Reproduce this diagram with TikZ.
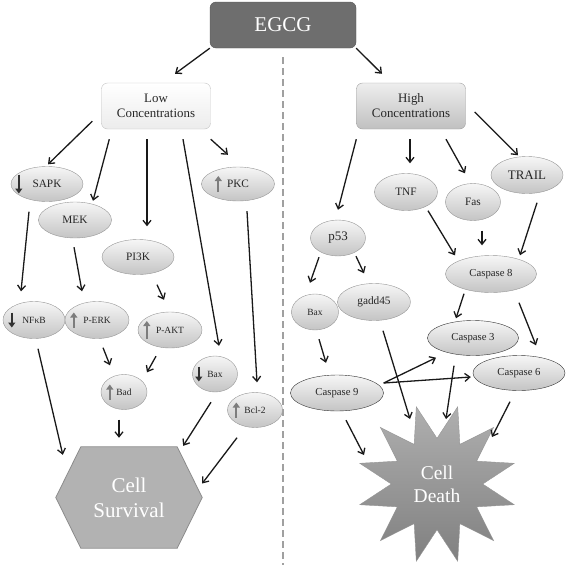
\documentclass[tikz,border=0pt]{standalone}
\usepackage{fontspec}
\setmainfont{Liberation Serif}
\usepackage{tikz}
\usetikzlibrary{arrows.meta,shapes.geometric,backgrounds}

\definecolor{egcggray}{RGB}{110,110,110}
\definecolor{egcgline}{RGB}{85,85,85}
\definecolor{lowline}{RGB}{195,195,195}
\definecolor{lowdark}{RGB}{236,236,236}
\definecolor{highline}{RGB}{160,160,160}
\definecolor{highlight}{RGB}{238,238,238}
\definecolor{highdark}{RGB}{192,192,192}
\definecolor{protline}{RGB}{150,150,150}
\definecolor{protlight}{RGB}{246,246,246}
\definecolor{protdark}{RGB}{196,196,196}
\definecolor{upgray}{RGB}{125,125,125}
\definecolor{dngray}{RGB}{50,50,50}
\definecolor{survfill}{RGB}{178,178,178}
\definecolor{survline}{RGB}{140,140,140}
\definecolor{deathlight}{RGB}{175,175,175}
\definecolor{deathdark}{RGB}{128,128,128}
\definecolor{deathline}{RGB}{150,150,150}
\definecolor{divgray}{RGB}{160,160,160}

\begin{document}
\begin{tikzpicture}[
  x=1pt, y=-1pt,
  >={Straight Barb[length=5pt,width=8pt]},
  conn/.style={->, line width=1.3pt, draw=black!90},
  topbox/.style={rectangle, rounded corners=6pt, draw=egcgline, fill=egcggray, text=white, minimum width=146pt, minimum height=46pt, font=\fontsize{21}{24}\selectfont},
  concbox/.style={rectangle, rounded corners=6pt, minimum width=109pt, minimum height=46pt, align=center, text=black!85, font=\fontsize{12.9}{15}\selectfont},
  prot/.style={ellipse, draw=protline, top color=protlight, bottom color=protdark, inner sep=0pt, text=black!85, font=\fontsize{11.3}{13}\selectfont},
  smallprot/.style={prot, font=\fontsize{9.5}{11}\selectfont},
  bigtext/.style={font=\fontsize{13}{15}\selectfont},
  casptext/.style={font=\fontsize{10.7}{12}\selectfont},
  darkrim/.style={draw=black!80},
  upmark/.style={-{Triangle[length=5pt,width=7pt]}, line width=2.2pt, draw=upgray},
  dnmark/.style={-{Triangle[length=5pt,width=7pt]}, line width=2.2pt, draw=dngray},
  fate/.style={text=white, align=center, font=\fontsize{21}{25}\selectfont},
  divider/.style={draw=divgray, line width=1.6pt, dash pattern=on 7pt off 4pt}
]
  \useasboundingbox (0,0) rectangle (567,565);

  % dividing line between the two regimes
  \draw[divider] (283,57) -- (283,565);

  % top level
  \node[topbox] (egcg) at (283,25) {EGCG};
  \node[concbox, draw=lowline, top color=white, bottom color=lowdark] (low) at (156,106) {Low\\Concentrations};
  \node[concbox, draw=highline, top color=highlight, bottom color=highdark] (high) at (411,106) {High\\Concentrations};

  % low concentrations
  \node[prot, minimum width=72pt, minimum height=35pt] (sapk) at (47,184) {SAPK};
  \node[prot, minimum width=73pt, minimum height=34pt] (pkc) at (238,184) {PKC};
  \node[prot, minimum width=73pt, minimum height=36pt] (mek) at (75,220) {MEK};
  \node[prot, minimum width=72pt, minimum height=35pt] (pi3k) at (138,257) {PI3K};
  \node[smallprot, minimum width=62pt, minimum height=37pt] (nfkb) at (34,320) {NFκB};
  \node[smallprot, minimum width=64pt, minimum height=37pt] (perk) at (97,320) {P-ERK};
  \node[smallprot, minimum width=64pt, minimum height=36pt] (pakt) at (170,330) {P-AKT};
  \node[smallprot, minimum width=45pt, minimum height=36pt] (baxl) at (215,374) {Bax};
  \node[smallprot, minimum width=46pt, minimum height=35pt] (bad) at (124,392) {Bad};
  \node[smallprot, minimum width=55pt, minimum height=35pt] (bcl) at (255,410) {Bcl-2};
  \node[fate, minimum width=146pt, minimum height=101pt] (surv) at (129,497.5) {Cell\\Survival};
  \begin{scope}[on background layer]
    \draw[fill=survfill, draw=survline, line width=0.8pt] (surv.west) -- ([xshift=25pt]surv.north west) -- ([xshift=-25pt]surv.north east) -- (surv.east) -- ([xshift=-25pt]surv.south east) -- ([xshift=25pt]surv.south west) -- cycle;
  \end{scope}

  % high concentrations
  \node[prot, bigtext, minimum width=72pt, minimum height=37pt] (trail) at (527,175) {TRAIL};
  \node[prot, minimum width=63pt, minimum height=37pt] (tnf) at (406,192) {TNF};
  \node[prot, minimum width=55pt, minimum height=37pt] (fas) at (473,202) {Fas};
  \node[prot, bigtext, minimum width=55pt, minimum height=36pt] (p53) at (338,238) {p53};
  \node[smallprot, minimum width=47pt, minimum height=36pt] (baxr) at (315,312) {Bax};
  \node[prot, minimum width=73pt, minimum height=37pt] (gadd) at (374,302) {gadd45};
  \node[prot, casptext, minimum width=91pt, minimum height=37pt] (casp8) at (491,274) {Caspase 8};
  \node[prot, casptext, darkrim, minimum width=91pt, minimum height=35pt] (casp3) at (473,338) {Caspase 3};
  \node[prot, casptext, darkrim, minimum width=92pt, minimum height=35pt] (casp6) at (519,373) {Caspase 6};
  \node[prot, casptext, darkrim, minimum width=93pt, minimum height=36pt] (casp9) at (337,393) {Caspase 9};
  \node[star, star points=12, star point ratio=1.75, minimum size=160pt, inner sep=0pt, shape border rotate=-15,
        draw=deathline, top color=deathlight, bottom color=deathdark, fate, font=\fontsize{19.5}{23}\selectfont] (death) at (437,484) {Cell\\Death};

  % up / down marks inside the ellipses
  \foreach \n/\dx/\h in {pkc/17/8, perk/9/7.5, pakt/9/9, bad/9/7.5, bcl/9/7.5}
    \draw[upmark] ([shift={(\dx,\h)}]\n.west) -- ([shift={(\dx,-\h)}]\n.west);
  \foreach \n/\dx/\h in {sapk/8/9.5, nfkb/9/7.5, baxl/6.5/7.5}
    \draw[dnmark] ([shift={(\dx,-\h)}]\n.west) -- ([shift={(\dx,\h)}]\n.west);

  % connectors, left
  \draw[conn] (egcg.south west) -- ([shift={(19,-9)}]low.north);
  \draw[conn] ([shift={(-9,-8)}]low.south west) -- ([shift={(1,-2)}]sapk.north);
  \draw[conn] ([shift={(8,10)}]low.south west) -- ([shift={(18,-1)}]mek.north);
  \draw[conn] ([shift={(-9,10)}]low.south) -- ([shift={(9,-13)}]pi3k.north);
  \draw[conn] ([shift={(27,10)}]low.south) -- ([shift={(4,-10)}]baxl.north);
  \draw[conn] ([shift={(0,10)}]low.south east) -- ([shift={(-10,-12)}]pkc.north);
  \draw[conn] ([shift={(-18,10)}]sapk.south) -- ([shift={(-13,-10)}]nfkb.north);
  \draw[conn] ([shift={(-1,9)}]mek.south) -- ([shift={(-15,-10)}]perk.north);
  \draw[conn] ([shift={(19,10)}]pi3k.south) -- ([shift={(-6,-12)}]pakt.north);
  \draw[conn] ([shift={(9,10)}]pkc.south) -- ([shift={(2,-10)}]bcl.north);
  \draw[conn] ([shift={(4,10)}]nfkb.south) -- ([shift={(7,8)}]surv.north west);
  \draw[conn] ([shift={(6,9)}]perk.south) -- ([shift={(-14,-9)}]bad.north);
  \draw[conn] ([shift={(-14,8)}]pakt.south) -- ([shift={(23,-2)}]bad.north);
  \draw[conn] ([shift={(-5,10)}]bad.south) -- ([shift={(-10,-9)}]surv.north);
  \draw[conn] ([shift={(-4,10)}]baxl.south) -- ([shift={(-19,-1)}]surv.north east);
  \draw[conn] ([shift={(-18,10)}]bcl.south) -- ([shift={(0,-14)}]surv.east);

  % connectors, right
  \draw[conn] (egcg.south east) -- ([shift={(-29,-9)}]high.north);
  \draw[conn] ([shift={(0,10)}]high.south west) -- ([shift={(0,-10)}]p53.north);
  \draw[conn] ([shift={(-1,10)}]high.south) -- ([shift={(4,-10)}]tnf.north);
  \draw[conn] ([shift={(35,10)}]high.south) -- ([shift={(-8,-10)}]fas.north);
  \draw[conn] ([shift={(9,6)}]high.east) -- ([shift={(-9,-1)}]trail.north);
  \draw[conn] ([shift={(22,0)}]tnf.south) -- ([shift={(-36,0)}]casp8.north);
  \draw[conn] ([shift={(9,10)}]fas.south) -- ([shift={(-9,-10)}]casp8.north);
  \draw[conn] ([shift={(10,9)}]trail.south) -- ([shift={(29,0)}]casp8.north);
  \draw[conn] ([shift={(-19,1)}]p53.south) -- ([shift={(-5,-11)}]baxr.north);
  \draw[conn] ([shift={(18,0)}]p53.south) -- ([shift={(-10,-10)}]gadd.north);
  \draw[conn] ([shift={(4,9)}]baxr.south) -- ([shift={(-11,-12)}]casp9.north);
  \draw[conn] ([shift={(-27,1)}]casp8.south) -- ([shift={(-17,-2)}]casp3.north);
  \draw[conn] ([shift={(28,10)}]casp8.south) -- ([shift={(17,-10)}]casp6.north);
  \draw[conn] ([shift={(0,-10)}]casp9.east) -- ([shift={(-37,2)}]casp3.south);
  \draw[conn] ([shift={(0,-10)}]casp9.east) -- ([shift={(-2,4)}]casp6.west);
  \draw[conn] ([shift={(9,10)}]gadd.south) -- ([shift={(-27,-65)}]death.center);
  \draw[conn] ([shift={(-19,10)}]casp3.south) -- ([shift={(9,-65)}]death.center);
  \draw[conn] ([shift={(-9,11)}]casp6.south) -- ([shift={(55,-47)}]death.center);
  \draw[conn] ([shift={(9,9)}]casp9.south) -- ([shift={(-73,-29)}]death.center);
\end{tikzpicture}
\end{document}
